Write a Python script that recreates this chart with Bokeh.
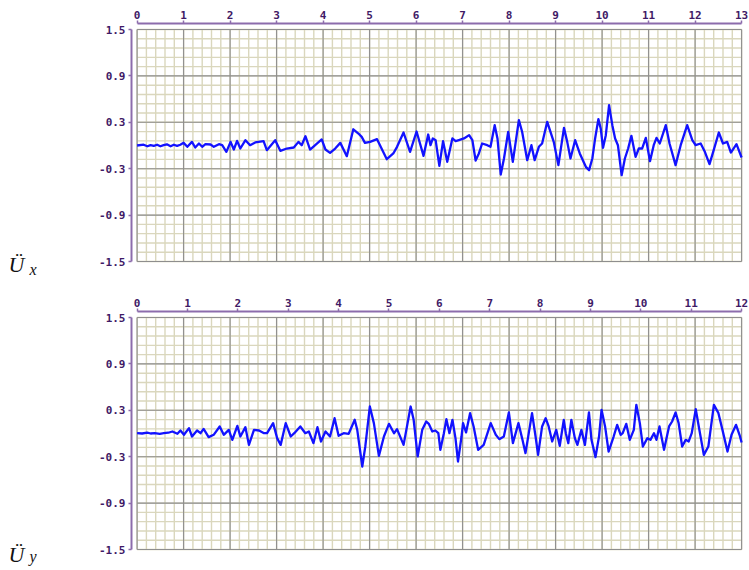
from bokeh.plotting import figure
from bokeh.layouts import column, row
from bokeh.models import FixedTicker, Range1d, Label
from bokeh.embed import file_html
from bokeh.resources import INLINE

# ---------------- data ----------------
ux_t = [0.00, 0.14, 0.22, 0.29, 0.36, 0.43, 0.50, 0.57, 0.64, 0.72, 0.79, 0.86, 0.93,
        1.00, 1.08, 1.18, 1.25, 1.33, 1.40, 1.47, 1.58, 1.65, 1.76, 1.83, 1.92,
        2.01, 2.08, 2.15, 2.22, 2.33, 2.43, 2.54, 2.72, 2.79, 2.97, 3.08, 3.22,
        3.37, 3.47, 3.54, 3.62, 3.72, 3.83, 3.97, 4.05, 4.15, 4.26, 4.37, 4.51,
        4.65, 4.76, 4.83, 4.90, 5.01, 5.16, 5.37, 5.51, 5.59, 5.73, 5.87, 6.01,
        6.16, 6.26, 6.31, 6.36, 6.42, 6.50, 6.58, 6.67, 6.78, 6.85, 6.92, 7.03,
        7.14, 7.21, 7.28, 7.35, 7.42, 7.53, 7.60, 7.69, 7.75, 7.82, 7.89, 7.98,
        8.08, 8.21, 8.28, 8.39, 8.48, 8.55, 8.64, 8.71, 8.82, 8.89, 8.96, 9.06,
        9.18, 9.25, 9.32, 9.42, 9.52, 9.65, 9.72, 9.79, 9.85, 9.92, 9.97, 10.02,
        10.08, 10.15, 10.22, 10.28, 10.34, 10.42, 10.49, 10.56, 10.63, 10.72,
        10.79, 10.86, 10.94, 11.03, 11.11, 11.17, 11.24, 11.37, 11.45, 11.58,
        11.69, 11.83, 11.94, 12.01, 12.12, 12.21, 12.31, 12.40, 12.51, 12.60,
        12.69, 12.77, 12.89, 13.00]
ux_a = [0.000, 0.010, -0.010, 0.005, -0.005, 0.010, -0.010, 0.005, 0.015, -0.010, 0.010, -0.005, 0.010,
        0.034, -0.017, 0.047, -0.026, 0.026, -0.017, 0.017, 0.013, -0.017, 0.017, 0.004, -0.082,
        0.047, -0.052, 0.060, -0.039, 0.069, 0.004, 0.039, 0.056, -0.060, 0.069, -0.069, -0.039,
        -0.026, 0.047, 0.004, 0.120, -0.052, 0.004, 0.078, -0.052, -0.095, -0.039, 0.034, -0.138,
        0.210, 0.155, 0.112, 0.034, 0.047, 0.082, -0.177, -0.103, -0.017, 0.168, -0.082, 0.181,
        -0.134, 0.142, 0.004, 0.091, 0.069, -0.263, 0.056, -0.211, 0.091, 0.056, 0.069, 0.091,
        0.134, 0.069, -0.194, -0.103, 0.026, 0.004, -0.017, 0.263, 0.091, -0.375, -0.168, 0.177,
        -0.211, 0.328, 0.177, -0.190, 0.004, -0.190, -0.017, 0.026, 0.306, 0.177, 0.047, -0.254,
        0.228, 0.047, -0.168, 0.069, -0.103, -0.276, -0.319, -0.168, 0.091, 0.341, 0.220, -0.030,
        0.134, 0.522, 0.263, 0.091, 0.004, -0.384, -0.168, -0.039, 0.125, -0.147,
        -0.039, -0.039, 0.099, -0.203, 0.004, 0.099, 0.026, 0.263, 0.026, -0.254,
        0.004, 0.263, 0.069, 0.004, 0.026, -0.082, -0.241, -0.060, 0.168, 0.026,
        0.047, -0.091, 0.017, -0.155]

uy_t = [0.00, 0.10, 0.20, 0.27, 0.35, 0.45, 0.53, 0.62, 0.70, 0.80, 0.86, 0.93,
        1.03, 1.09, 1.19, 1.26, 1.32, 1.42, 1.52, 1.64, 1.72, 1.82, 1.89, 1.99,
        2.05, 2.15, 2.22, 2.32, 2.42, 2.52, 2.58, 2.70, 2.78, 2.85, 2.95, 3.05,
        3.12, 3.24, 3.34, 3.41, 3.50, 3.58, 3.65, 3.74, 3.83, 3.92, 4.00, 4.10,
        4.20, 4.32, 4.37, 4.47, 4.53, 4.62, 4.70, 4.80, 4.90, 5.00, 5.10, 5.16,
        5.29, 5.43, 5.49, 5.57, 5.66, 5.74, 5.79, 5.86, 5.92, 5.98, 6.02, 6.09,
        6.14, 6.20, 6.26, 6.32, 6.37, 6.44, 6.47, 6.53, 6.61, 6.68, 6.77, 6.88,
        7.02, 7.12, 7.19, 7.28, 7.38, 7.46, 7.57, 7.65, 7.71, 7.84, 7.91, 7.96,
        8.04, 8.11, 8.17, 8.24, 8.32, 8.39, 8.47, 8.51, 8.56, 8.62, 8.69, 8.74,
        8.82, 8.89, 8.97, 9.02, 9.10, 9.17, 9.22, 9.29, 9.36, 9.46, 9.53, 9.60,
        9.64, 9.71, 9.78, 9.86, 9.91, 9.98, 10.04, 10.13, 10.19, 10.26, 10.31,
        10.37, 10.46, 10.56, 10.62, 10.69, 10.75, 10.82, 10.89, 10.95, 11.01,
        11.09, 11.15, 11.25, 11.34, 11.45, 11.54, 11.62, 11.72, 11.80, 11.89,
        11.96, 12.00]
uy_a = [0.004, 0.000, 0.010, 0.000, 0.005, -0.005, 0.004, 0.010, 0.026, -0.004, 0.039, -0.017,
        0.069, -0.039, 0.039, 0.004, 0.060, -0.047, -0.017, 0.091, -0.017, 0.047, -0.082, 0.099,
        -0.039, 0.082, -0.147, 0.047, 0.039, 0.004, 0.004, 0.134, -0.060, -0.147, 0.134, -0.039,
        0.004, 0.091, 0.004, 0.026, -0.125, 0.082, -0.103, 0.026, -0.039, 0.198, -0.030, 0.004,
        -0.004, 0.177, 0.047, -0.427, -0.168, 0.349, 0.134, -0.289, -0.039, 0.125, 0.004, 0.056,
        -0.147, 0.349, 0.177, -0.297, 0.047, 0.155, 0.125, 0.026, 0.039, 0.004, -0.211, 0.004,
        0.185, 0.004, 0.177, -0.060, -0.362, -0.039, 0.134, 0.013, 0.263, 0.091, -0.211, -0.147,
        0.134, -0.017, -0.073, -0.039, 0.272, -0.125, 0.134, -0.082, -0.254, 0.263, -0.039, -0.276,
        0.091, 0.198, 0.091, -0.103, 0.047, -0.159, 0.177, 0.004, -0.125, 0.177, -0.060, -0.147,
        0.047, -0.147, 0.272, -0.082, -0.306, -0.039, 0.306, 0.091, -0.233, -0.039, 0.112, -0.017,
        0.004, 0.125, -0.082, 0.047, 0.371, 0.134, -0.168, -0.060, -0.082, 0.004, -0.082,
        0.091, -0.211, 0.091, 0.155, 0.272, 0.134, -0.168, -0.082, -0.103, 0.004,
        0.315, 0.091, -0.276, -0.168, 0.371, 0.263, 0.047, -0.233, -0.017, 0.112,
        -0.020, -0.116]

top_x_ticks = list(range(0, 14))
bottom_x_ticks = list(range(0, 13))
y_ticks = [1.5, 0.9, 0.3, -0.3, -0.9, -1.5]
y_tick_labels = ["1.5", "0.9", "0.3", "-0.3", "-0.9", "-1.5"]
panel_names = ["x", "y"]
grid_cells = 13          # major grid cells across each panel
minor_per_cell = 5
y_min, y_max = -1.5, 1.5

AXIS_COLOR = "#8c6cac"
LABEL_COLOR = "#3f1a66"
MAJOR_GRID = "#8e8e8e"
MINOR_GRID = "#dad7bd"
WAVE_COLOR = "#1212ff"

PAGE_H = 570
LAB_W = 60
FRAME_W, FRAME_H = 612, 240
LEFT_GAP = 5.6
TOP_GAP = 6.0


def make_label_fig():
    # a full-height strip; y measured downward from the top of the page
    f = figure(width=LAB_W, height=PAGE_H, x_range=Range1d(0, LAB_W), y_range=Range1d(PAGE_H, 0),
               x_axis_location=None, y_axis_location=None,
               output_backend="svg", toolbar_location=None,
               min_border=0, min_border_left=0, min_border_right=0,
               min_border_top=0, min_border_bottom=0)
    f.grid.visible = False
    f.outline_line_color = None
    f.background_fill_color = "white"
    f.border_fill_color = "white"
    for sub, u_base, s_base in ((panel_names[0], 264, 269), (panel_names[1], 554, 556)):
        f.add_layout(Label(x=8, y=u_base, text="Ü", text_font="Liberation Serif",
                           text_font_style="italic", text_font_size="22px", text_color="#111111",
                           text_baseline="alphabetic", text_align="left"))
        f.add_layout(Label(x=29, y=s_base, text=sub, text_font="Liberation Serif",
                           text_font_style="italic", text_font_size="16px", text_color="#111111",
                           text_baseline="alphabetic", text_align="left"))
    return f


def make_panel(t, a, x_end, x_ticks, height, b_top, b_bottom):
    ppu_x = 604.5 / x_end
    x0 = -LEFT_GAP / ppu_x
    x1 = x0 + FRAME_W / ppu_x
    ppu_y = 232.0 / (y_max - y_min)
    yt = y_max + TOP_GAP / ppu_y
    yb = yt - FRAME_H / ppu_y

    left = 131 - LAB_W
    p = figure(width=749 - LAB_W, height=height, x_range=Range1d(x0, x1), y_range=Range1d(yb, yt),
               x_axis_location="above", y_axis_location="left",
               output_backend="svg", toolbar_location=None,
               min_border_left=left, min_border_right=749 - LAB_W - left - FRAME_W,
               min_border_top=b_top, min_border_bottom=b_bottom)
    p.outline_line_color = None
    p.background_fill_color = "white"
    p.border_fill_color = "white"
    p.grid.visible = False

    # grid (minor first, then major)
    mx = [x_end * k / (grid_cells * minor_per_cell) for k in range(grid_cells * minor_per_cell + 1)]
    my = [y_max - (y_max - y_min) * k / (5 * minor_per_cell) for k in range(5 * minor_per_cell + 1)]
    p.segment(x0=mx, y0=[y_min] * len(mx), x1=mx, y1=[y_max] * len(mx),
              line_color=MINOR_GRID, line_width=1.4)
    p.segment(x0=[0] * len(my), y0=my, x1=[x_end] * len(my), y1=my,
              line_color=MINOR_GRID, line_width=1.4)
    Mx = [x_end * k / grid_cells for k in range(grid_cells + 1)]
    p.segment(x0=Mx, y0=[y_min] * len(Mx), x1=Mx, y1=[y_max] * len(Mx),
              line_color=MAJOR_GRID, line_width=1.1)
    p.segment(x0=[0] * len(y_ticks), y0=y_ticks, x1=[x_end] * len(y_ticks), y1=y_ticks,
              line_color=MAJOR_GRID, line_width=1.1)

    p.line(t, a, line_color=WAVE_COLOR, line_width=2.3, line_join="round")

    for ax in (p.xaxis[0], p.yaxis[0]):
        ax.axis_line_color = AXIS_COLOR
        ax.axis_line_width = 2
        ax.major_tick_line_color = AXIS_COLOR
        ax.major_tick_line_width = 1.5
        ax.major_tick_in = 0
        ax.major_tick_out = 3
        ax.minor_tick_line_color = None
        ax.major_label_text_font = "DejaVu Sans Mono"
        ax.major_label_text_font_style = "bold"
        ax.major_label_text_font_size = "11px"
        ax.major_label_text_color = LABEL_COLOR
    p.xaxis.ticker = FixedTicker(ticks=x_ticks)
    p.xaxis.bounds = (0, x_end)
    p.xaxis.major_label_standoff = 2
    p.yaxis.ticker = FixedTicker(ticks=y_ticks)
    p.yaxis.bounds = (y_min, y_max)
    p.yaxis.major_label_standoff = 3
    p.yaxis.major_label_overrides = {v: s for v, s in zip(y_ticks, y_tick_labels)}
    return p


H1, H2 = 289, 281
p1 = make_panel(ux_t, ux_a, 13, top_x_ticks, H1, 23, H1 - 23 - FRAME_H)
p2 = make_panel(uy_t, uy_a, 12, bottom_x_ticks, H2, 22, H2 - 22 - FRAME_H)
lab = make_label_fig()

layout = row(lab, column(p1, p2, spacing=0), spacing=0)
open("out.html", "w").write(file_html(layout, INLINE))
